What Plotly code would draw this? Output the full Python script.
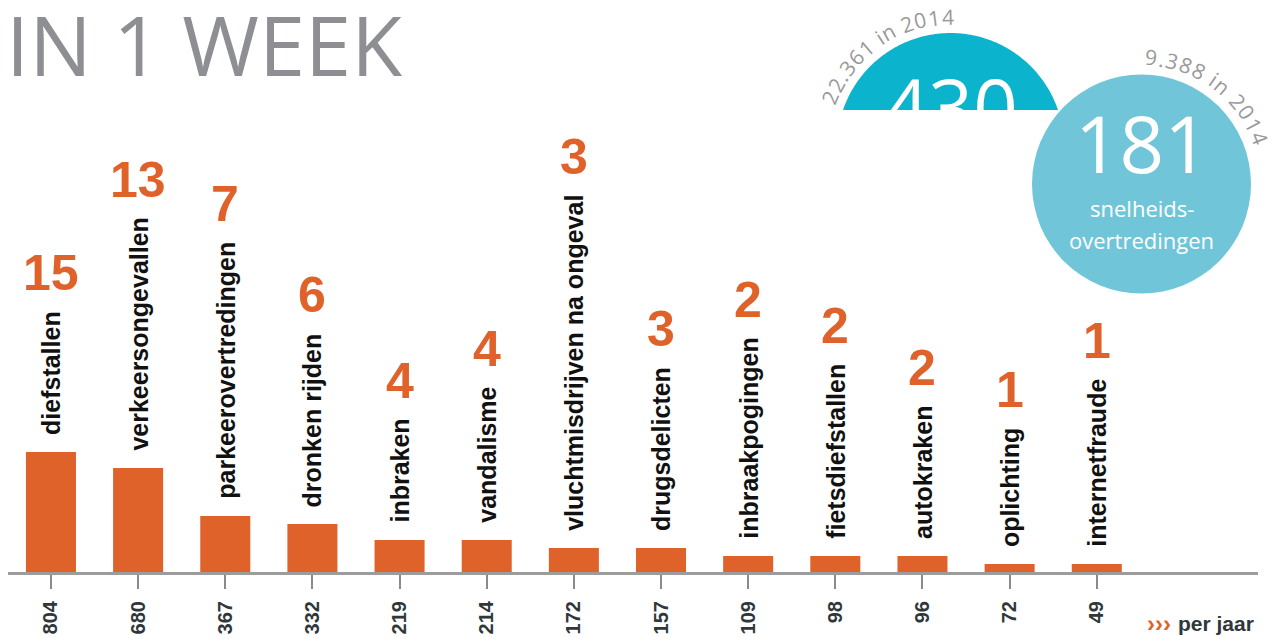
import numpy as np
import plotly.graph_objects as go

# ---------------- data ----------------
categories = ["diefstallen", "verkeersongevallen", "parkeerovertredingen", "dronken rijden",
              "inbraken", "vandalisme", "vluchtmisdrijven na ongeval", "drugsdelicten",
              "inbraakpogingen", "fietsdiefstallen", "autokraken", "oplichting", "internetfraude"]
per_week = [15, 13, 7, 6, 4, 4, 3, 3, 2, 2, 2, 1, 1]
per_year = [804, 680, 367, 332, 219, 214, 172, 157, 109, 98, 96, 72, 49]

title_text = "IN 1 WEEK"
speed_week = 181
speed_year_text = "9.388 in 2014"
speed_label = ["snelheids-", "overtredingen"]
other_week = 430
other_year_text = "22.361 in 2014"
per_year_label = "per jaar"

# ---------------- style ----------------
W, H = 1282, 639
PH = 572  # plot height in px (bottom margin holds tick labels)
ORANGE = "#e0622b"
TEAL1 = "#0bb4cc"
TEAL2 = "#70c6d8"
GREY_T = "#8e8f93"
GREY_ARC = "#999999"

def P(x, y):
    """pixel -> paper"""
    return x / W, (PH - y) / PH

# Arial/Liberation Sans Bold advance widths (per 1000 em) for label measuring
AB = dict(a=556, b=611, c=556, d=611, e=556, f=333, g=611, h=611, i=278, j=278, k=556,
          l=278, m=889, n=611, o=611, p=611, q=611, r=389, s=556, t=333, u=611, v=556,
          w=778, x=556, y=556, z=500)
AB[" "] = 278
LABEL_SIZE = 25

def label_len(t):
    return sum(AB.get(ch, 556) for ch in t) * LABEL_SIZE / 1000.0

# Open Sans widths for arc text
OS = {str(d): 572 for d in range(10)}
OS.update({".": 266, " ": 260, "i": 252, "n": 613})

fig = go.Figure()
idx = list(range(len(categories)))
fig.add_trace(go.Bar(x=idx, y=per_week, width=0.574, marker=dict(color=ORANGE, line=dict(width=0)),
                     hoverinfo="skip"))

ann = []
label_font = dict(family="Liberation Sans, Arial", size=LABEL_SIZE, color="#111111", weight="bold")
num_font = dict(family="Liberation Sans Narrow, Arial Narrow, Liberation Sans", size=50, color=ORANGE, weight="bold")
for i, (c, v) in enumerate(zip(categories, per_week)):
    L = label_len(c)
    ann.append(dict(x=i, y=v, xref="x", yref="y", text=c, textangle=-90, showarrow=False,
                    xanchor="center", yanchor="bottom", yshift=15, font=label_font))
    ann.append(dict(x=i, y=v, xref="x", yref="y", text=str(v), showarrow=False,
                    xanchor="center", yanchor="middle", yshift=L + 55, font=num_font))

# title
tx, ty = P(4, 43)
ann.append(dict(x=tx, y=ty, xref="paper", yref="paper", text=title_text, showarrow=False,
                xanchor="left", yanchor="middle", font=dict(family="Open Sans", size=83, color=GREY_T)))

# circle 1 (clipped top segment)
c1x, c1y, r1 = 950.5, 146.5, 113.5
clip_y = 110
phi = np.arccos((c1y - clip_y) / r1)
ph = np.linspace(-phi, phi, 120)
xs = c1x + r1 * np.sin(ph)
ys = c1y - r1 * np.cos(ph)
path = "M " + " L ".join(f"{P(a, b)[0]:.5f},{P(a, b)[1]:.5f}" for a, b in zip(xs, ys)) + " Z"
shapes = [dict(type="path", path=path, xref="paper", yref="paper", fillcolor=TEAL1,
               line=dict(width=0), layer="above")]

# 430 text then white cover
nx, ny = P(c1x, 105.5)
ann.append(dict(x=nx, y=ny, xref="paper", yref="paper", text=str(other_week), showarrow=False,
                xanchor="center", yanchor="middle", font=dict(family="Open Sans", size=78, color="white")))
cx_, cy_ = P(c1x - 5, clip_y)
ann.append(dict(x=cx_, y=cy_, xref="paper", yref="paper", text=" ", showarrow=False,
                xanchor="center", yanchor="top", width=160, height=40, bgcolor="white",
                borderpad=0, borderwidth=0, font=dict(size=10)))

# circle 2
c2x, c2y, r2 = 1141.5, 184, 109.5
x0, y0 = P(c2x - r2, c2y + r2)
x1, y1 = P(c2x + r2, c2y - r2)
shapes.append(dict(type="circle", xref="paper", yref="paper", x0=x0, x1=x1, y0=y0, y1=y1,
                   fillcolor=TEAL2, line=dict(width=0), layer="above"))

sx, sy = P(c2x, 143.5)
ann.append(dict(x=sx, y=sy, xref="paper", yref="paper", text=str(speed_week), showarrow=False,
                xanchor="center", yanchor="middle", font=dict(family="Open Sans", size=78, color="white")))
for line, yy in zip(speed_label, [208, 240]):
    lx, ly = P(c2x, yy)
    ann.append(dict(x=lx, y=ly, xref="paper", yref="paper", text=line, showarrow=False,
                    xanchor="center", yanchor="middle", font=dict(family="Open Sans", size=22, color="white")))

# arc texts
def arc_text(text, cx, cy, R, th0, th1, size, color):
    w = [OS.get(ch, 572) for ch in text]
    cum = np.cumsum(w) - np.array(w) / 2.0
    t = (cum - cum[0]) / (cum[-1] - cum[0])
    out = []
    for ch, f in zip(text, t):
        if ch == " ":
            continue
        th = th0 + f * (th1 - th0)
        rad = np.deg2rad(th)
        px = cx + R * np.sin(rad)
        py = cy - R * np.cos(rad)
        ax, ay = P(px, py)
        out.append(dict(x=ax, y=ay, xref="paper", yref="paper", text=ch, showarrow=False,
                        textangle=th, xanchor="center", yanchor="middle", borderpad=0, borderwidth=0,
                        font=dict(family="Open Sans", size=size, color=color)))
    return out

ann += arc_text(other_year_text, c1x, c1y, 130, -67.7, -1.3, 21, GREY_ARC)
ann += arc_text(speed_year_text, c2x, c2y, 127, 4.5, 68.6, 21, GREY_ARC)

# per jaar
ax_, ay_ = P(1145, 623)
ann.append(dict(x=ax_, y=ay_, xref="paper", yref="paper", text="›››", showarrow=False,
                xanchor="left", yanchor="middle", font=dict(family="Liberation Sans", size=24, color=ORANGE, weight="bold")))
ax_, ay_ = P(1176, 623)
ann.append(dict(x=ax_, y=ay_, xref="paper", yref="paper", text=per_year_label, showarrow=False,
                xanchor="left", yanchor="middle", font=dict(family="Liberation Sans", size=21, color="#30373b", weight="bold")))

fig.update_layout(
    width=W, height=H, margin=dict(l=0, r=0, t=0, b=H - PH, pad=0),
    paper_bgcolor="white", plot_bgcolor="white", showlegend=False,
    annotations=ann, shapes=shapes,
    xaxis=dict(range=[-0.493, 13.85], domain=[8 / W, 1258 / W], tickmode="array", tickvals=idx,
               ticktext=[str(v) for v in per_year], tickangle=-90, ticks="outside", ticklen=14,
               tickwidth=2, tickcolor="#8a8a8a", showline=True, linecolor="#9c9c9c", linewidth=3,
               showgrid=False, zeroline=False, fixedrange=True, ticklabelstandoff=4,
               tickfont=dict(family="Liberation Sans", size=20, color="#30373b", weight="bold")),
    yaxis=dict(range=[0, PH / 8], visible=False, fixedrange=True),
)

fig.write_html("out.html", config={"displayModeBar": False},
               post_script="document.body.style.margin='0';document.body.style.overflow='hidden';")
